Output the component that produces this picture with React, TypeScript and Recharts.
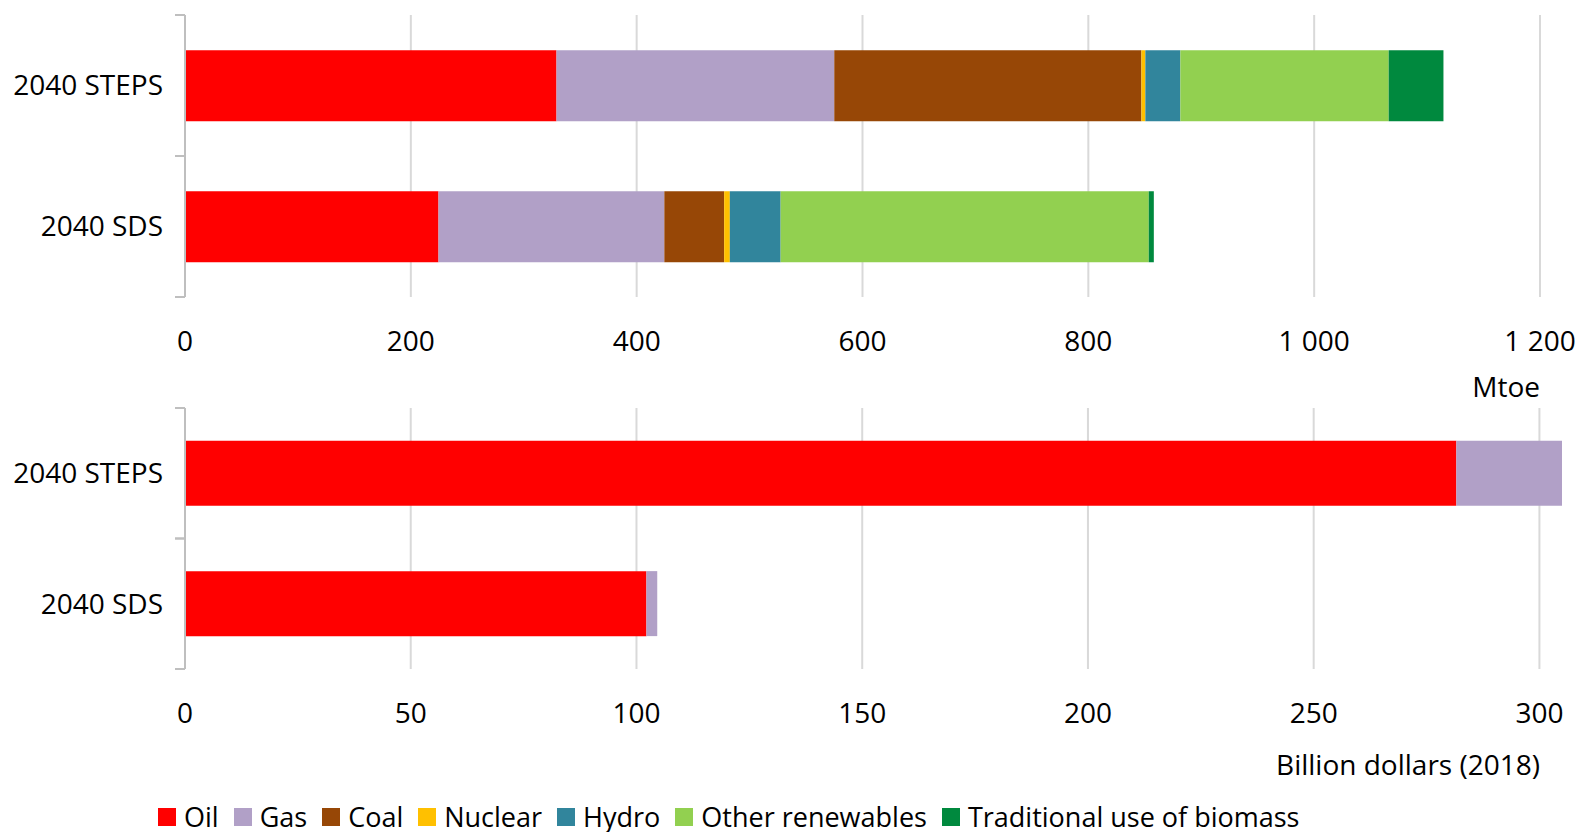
import React from 'react'
import { BarChart, Bar, XAxis, YAxis, CartesianGrid } from 'recharts'

// scenario rows
const scenarios = ['2040 STEPS', '2040 SDS']

// energy demand, Mtoe
const oilMtoe = [329, 224.5]
const gasMtoe = [246, 200]
const coalMtoe = [272, 53]
const nuclearMtoe = [3.5, 5]
const hydroMtoe = [31, 45]
const otherRenewablesMtoe = [184.5, 326]
const biomassMtoe = [48.5, 4.5]

// spending, billion dollars (2018)
const oilUsd = [281.6, 102.2]
const gasUsd = [23.4, 2.4]

const mtoeTicks = [0, 200, 400, 600, 800, 1000, 1200]
const usdTicks = [0, 50, 100, 150, 200, 250, 300]

const SERIES = [
  { key: 'oil', name: 'Oil', color: '#ff0000' },
  { key: 'gas', name: 'Gas', color: '#b1a0c7' },
  { key: 'coal', name: 'Coal', color: '#974706' },
  { key: 'nuclear', name: 'Nuclear', color: '#ffc000' },
  { key: 'hydro', name: 'Hydro', color: '#31859c' },
  { key: 'other', name: 'Other renewables', color: '#92d050' },
  { key: 'biomass', name: 'Traditional use of biomass', color: '#00893e' },
]

const mtoeData = scenarios.map((name, i) => ({
  name,
  oil: oilMtoe[i],
  gas: gasMtoe[i],
  coal: coalMtoe[i],
  nuclear: nuclearMtoe[i],
  hydro: hydroMtoe[i],
  other: otherRenewablesMtoe[i],
  biomass: biomassMtoe[i],
}))

const usdData = scenarios.map((name, i) => ({
  name,
  oil: oilUsd[i],
  gas: gasUsd[i],
}))

const FONT = '"Open Sans", "Noto Sans", sans-serif'
const AXIS_GREY = '#bfbfbf'
const GRID_GREY = '#d9d9d9'
const tickStyle = { fill: '#000', fontSize: 28, fontFamily: FONT }
const LABEL_GAP = 22

const fmt = (v: number) => (v >= 1000 ? `${Math.floor(v / 1000)} ${String(v % 1000).padStart(3, '0')}` : String(v))

// category label plus the small marks at the band edges (Excel style)
function CategoryTick(props: any) {
  const { x, y, payload } = props
  const half = payload.offset || 0
  const ax = x + LABEL_GAP
  return (
    <g>
      <text x={x} y={y} dy="0.355em" textAnchor="end" fill="#000" fontSize={28} fontFamily={FONT}>
        {payload.value}
      </text>
      <line x1={ax - 10} x2={ax} y1={y - half} y2={y - half} stroke={AXIS_GREY} strokeWidth={2} />
      <line x1={ax - 10} x2={ax} y1={y + half} y2={y + half} stroke={AXIS_GREY} strokeWidth={2} />
    </g>
  )
}

function Panel({ data, keys, ticks, domain, unit, unitOffset, height, top, marginTop, marginRight, axisHeight }: any) {
  return (
    <div style={{ position: 'absolute', left: 0, top }}>
      <BarChart
        width={1578}
        height={height}
        data={data}
        layout="vertical"
        barCategoryGap="25%"
        margin={{ top: marginTop, right: marginRight, bottom: 8, left: 0 }}
      >
        <CartesianGrid horizontal={false} stroke={GRID_GREY} strokeWidth={2} verticalValues={ticks} />
        <XAxis
          type="number"
          domain={domain}
          ticks={ticks}
          tickFormatter={fmt}
          axisLine={false}
          tickLine={false}
          tickSize={0}
          tickMargin={34}
          tick={tickStyle}
          height={axisHeight}
          interval={0}
          label={{ value: unit, position: 'insideBottomRight', offset: unitOffset, fill: '#000', fontSize: 28, fontFamily: FONT }}
        />
        <YAxis
          type="category"
          dataKey="name"
          axisLine={{ stroke: AXIS_GREY, strokeWidth: 2 }}
          tickLine={false}
          tickSize={0}
          tickMargin={LABEL_GAP}
          tick={<CategoryTick />}
          width={185}
        />
        {keys.map((s: any) => (
          <Bar key={s.key} dataKey={s.key} name={s.name} stackId="a" fill={s.color} isAnimationActive={false} />
        ))}
      </BarChart>
    </div>
  )
}

export default function App() {
  return (
    <div style={{ position: 'absolute', left: 0, top: 0, width: 1578, height: 832, fontFamily: FONT, background: '#fff' }}>
      <Panel
        data={mtoeData}
        keys={SERIES}
        ticks={mtoeTicks}
        domain={[0, 1200]}
        unit="Mtoe"
        unitOffset={0}
        top={0}
        height={405}
        marginTop={15}
        marginRight={38}
        axisHeight={100}
      />
      <Panel
        data={usdData}
        keys={SERIES.slice(0, 2)}
        ticks={usdTicks}
        domain={[0, 'dataMax']}
        unit="Billion dollars (2018)"
        unitOffset={22}
        top={390}
        height={415}
        marginTop={18}
        marginRight={16}
        axisHeight={128}
      />
      {/* legend */}
      <div
        style={{
          position: 'absolute',
          left: 158,
          top: 803,
          display: 'flex',
          alignItems: 'center',
          fontSize: 27,
          lineHeight: '28px',
          color: '#000',
          whiteSpace: 'nowrap',
        }}
      >
        {SERIES.map((s) => (
          <div key={s.key} style={{ display: 'flex', alignItems: 'center', marginRight: 15 }}>
            <span style={{ width: 18, height: 18, background: s.color, marginRight: 8, display: 'inline-block' }} />
            <span>{s.name}</span>
          </div>
        ))}
      </div>
    </div>
  )
}
